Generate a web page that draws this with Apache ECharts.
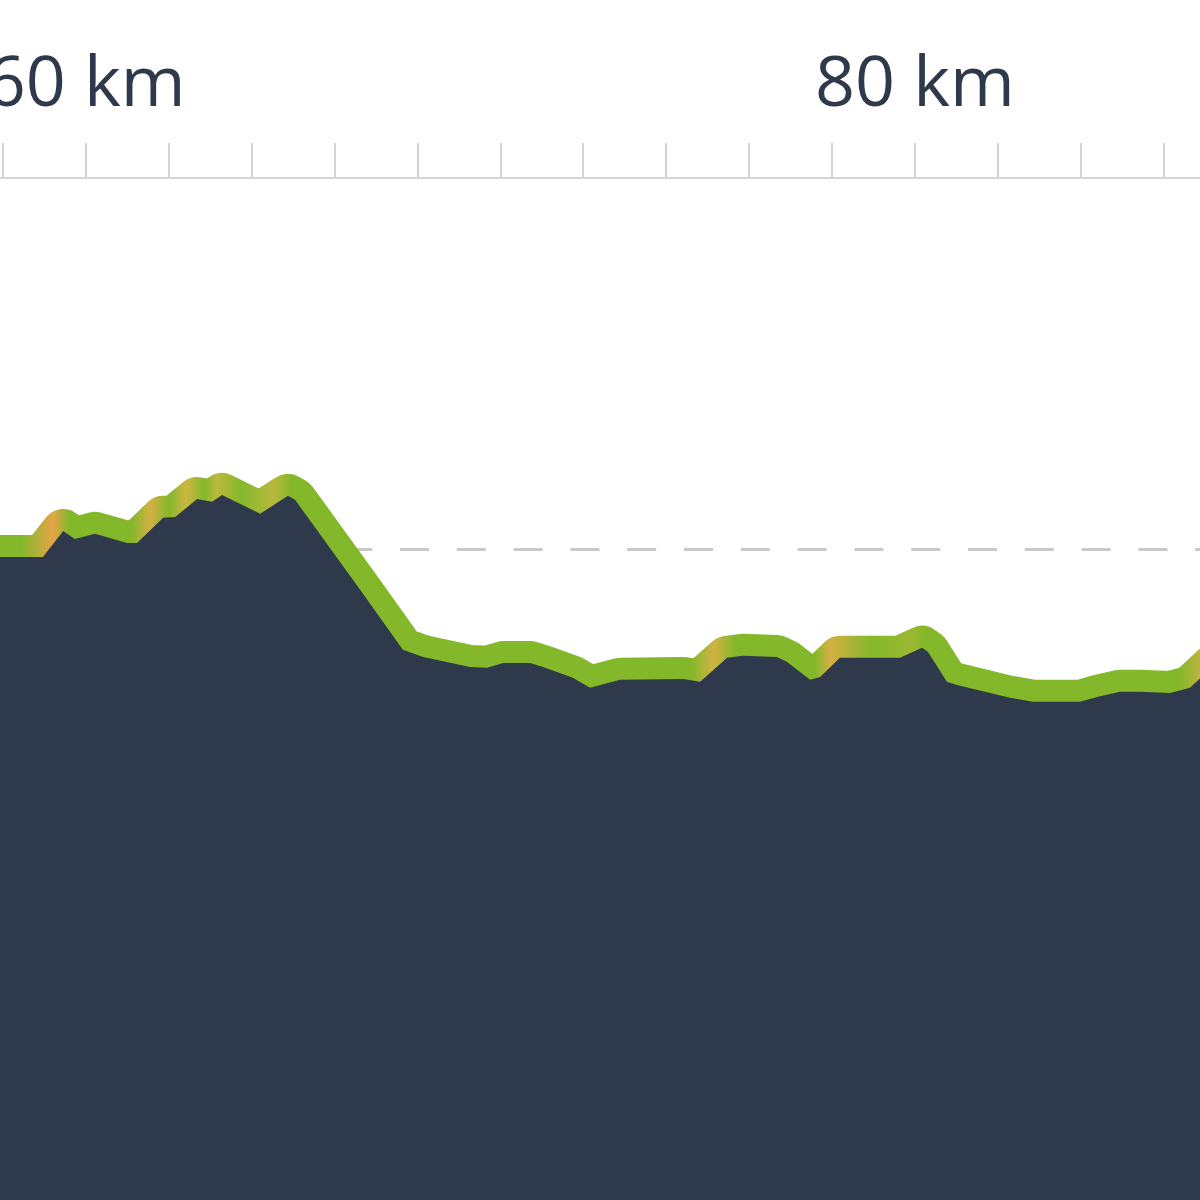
<!DOCTYPE html>
<html>
<head>
<meta charset="utf-8">
<title>Elevation profile</title>
<script src="https://cdn.jsdelivr.net/npm/echarts@6/dist/echarts.min.js"></script>
<style>
    html, body { margin: 0; padding: 0; background: #fff; }
    #chart { width: 1200px; height: 1200px; }
</style>
</head>
<body>
<div id="chart"></div>
<script>
// distance along the route (km) and elevation (m)
const distanceKm = [
    57.45, 57.94, 58.97, 59.46, 59.74, 60.23, 61.00, 61.24, 61.87, 62.16,
    62.69, 63.05, 63.29, 64.21, 64.88, 65.05, 66.62, 67.65, 68.14, 69.27,
    69.68, 70.07, 70.72, 71.03, 71.75, 72.16, 72.89, 74.41, 74.82, 75.47,
    75.85, 76.67, 76.91, 77.47, 77.71, 78.19, 79.64, 80.17, 80.31, 80.77,
    81.01, 82.29, 82.85, 83.98, 84.39, 84.94, 85.43, 86.15, 86.63, 87.48
]
const elevationM = [
    298.0, 298.0, 298.0, 304.5, 302.5, 303.8, 301.5, 301.5, 307.8, 308.0,
    312.5, 311.8, 313.5, 308.8, 313.3, 312.3, 289.8, 274.8, 273.0, 270.5,
    270.3, 271.5, 271.5, 270.5, 267.8, 265.3, 267.3, 267.5, 266.8, 272.8,
    273.3, 273.0, 271.8, 267.3, 268.0, 272.8, 272.8, 275.3, 274.3, 266.8,
    266.0, 262.8, 261.8, 261.8, 263.0, 264.3, 264.3, 264.0, 265.3, 273.5
]
// labelled kilometre marks
const kmLabels = [60, 80]

// colours by climbing grade (m per km): flat -> green, steep -> orange
const gradeColors = ['#84b82b', '#cbb842', '#e4a546']

const chart = echarts.init(document.getElementById('chart'))
const points = distanceKm.map((d, i) => [d, elevationM[i]])

const option = {
    backgroundColor: '#ffffff',
    animation: false,
    grid: { left: -80.28, right: -46.76, top: 178, bottom: -549, outerBoundsMode: 'none', containLabel: false },
    xAxis: {
        type: 'value',
        position: 'top',
        min: 56,
        max: 88,
        interval: 2,
        axisLine: { onZero: false, lineStyle: { color: '#d4d4d4', width: 2 } },
        axisTick: { length: 35, lineStyle: { color: '#d4d4d4', width: 2 } },
        axisLabel: {
            margin: 57,
            fontSize: 70,
            fontFamily: 'Open Sans',
            color: '#2e3a4b',
            formatter: v => (kmLabels.indexOf(v) >= 0 ? v + ' km' : '')
        },
        splitLine: { show: false }
    },
    yAxis: {
        type: 'value',
        min: 0,
        max: 392.75,
        interval: 100,
        axisLine: { show: false },
        axisTick: { show: false },
        axisLabel: { show: false },
        splitLine: {
            show: true,
            showMaxLine: false,
            lineStyle: { color: '#c9c9c9', width: 3, type: [29, 27.8], dashOffset: 30.9 }
        }
    },
    series: [
        {
            id: 'line',
            type: 'line',
            data: points,
            symbol: 'none',
            z: 2,
            lineStyle: { width: 44, color: gradeColors[0], join: 'round', cap: 'round' }
        },
        {
            id: 'area',
            type: 'line',
            data: points,
            symbol: 'none',
            z: 3,
            lineStyle: { width: 0, opacity: 0 },
            areaStyle: { color: '#2e3a4b', opacity: 1 }
        }
    ]
}
chart.setOption(option)

// gradient along the line, one colour per segment from its grade
function gradeColor(g) {
    const t = Math.min(1, Math.max(0, (g - 3) / 10))
    return echarts.color.lerp(t, gradeColors)
}
const px = distanceKm.map(d => chart.convertToPixel({ xAxisIndex: 0 }, d))
const x0 = px[0]
const x1 = px[px.length - 1]
const stops = []
for (let i = 0; i < px.length - 1; i++) {
    const grade = (elevationM[i + 1] - elevationM[i]) / (distanceKm[i + 1] - distanceKm[i])
    const mid = (px[i] + px[i + 1]) / 2
    stops.push({ offset: (mid - x0) / (x1 - x0), color: gradeColor(grade) })
}
chart.setOption({
    series: [{
        id: 'line',
        lineStyle: { color: new echarts.graphic.LinearGradient(x0, 0, x1, 0, stops, true) }
    }]
})
</script>
</body>
</html>
